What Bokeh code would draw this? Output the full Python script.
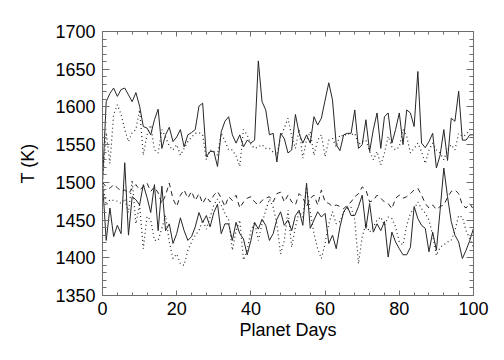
import numpy as np
from bokeh.plotting import figure
from bokeh.models import Range1d, LinearAxis, SingleIntervalTicker, CustomJSTickFormatter
from bokeh.embed import file_html
from bokeh.resources import INLINE

days = list(range(101))

upper_solid = [1500, 1607, 1618, 1625, 1614, 1623, 1625, 1616, 1607, 1619,
               1601, 1574, 1572, 1563, 1583, 1597, 1545, 1563, 1573, 1554,
               1560, 1570, 1547, 1563, 1566, 1570, 1601, 1605, 1534, 1541,
               1541, 1521, 1567, 1581, 1587, 1563, 1552, 1563, 1547, 1556,
               1552, 1556, 1661, 1607, 1596, 1563, 1565, 1527, 1565, 1558,
               1539,
               1543, 1590, 1565, 1552, 1563, 1552, 1587, 1576, 1585, 1609,
               1632, 1609, 1550, 1542, 1563, 1565, 1565, 1596, 1545, 1550,
               1583, 1541, 1570, 1592, 1545, 1587, 1592, 1552, 1570, 1592,
               1550, 1596, 1592, 1574, 1647, 1552, 1546, 1554, 1565, 1519,
               1536, 1570, 1529, 1585, 1581, 1621, 1556, 1556, 1563, 1563]

upper_dotted = [1500, 1566, 1525, 1590, 1603, 1590, 1570, 1554, 1566, 1570,
                1596, 1536, 1563, 1576, 1543, 1539, 1570, 1560, 1548, 1543,
                1550, 1536, 1545, 1554, 1560, 1565, 1566, 1563, 1530, 1543,
                1541, 1536, 1565, 1555, 1543, 1543, 1535, 1521, 1570, 1563,
                1550, 1545, 1547, 1550, 1545, 1545, 1540, 1536, 1560, 1572,
                1585,
                1561, 1545, 1570, 1532, 1556, 1567, 1536, 1556, 1563, 1534,
                1556, 1558, 1547, 1563, 1561, 1565, 1563, 1565, 1550, 1554,
                1556, 1541, 1530, 1541, 1523, 1539, 1561, 1547, 1543, 1547,
                1570, 1561, 1539, 1545, 1552, 1541, 1525, 1543, 1552, 1543,
                1539, 1530, 1543, 1550, 1543, 1565, 1561, 1563, 1570, 1572]

middle_dashed = [1500, 1494, 1492, 1497, 1493, 1488, 1490, 1485, 1492, 1497,
                 1490, 1494, 1499, 1488, 1494, 1486, 1472, 1483, 1499, 1478,
                 1468, 1483, 1490, 1479, 1488, 1476, 1485, 1472, 1481, 1474,
                 1483, 1488, 1479, 1468, 1481, 1476, 1483, 1466, 1474, 1479,
                 1481, 1474, 1470, 1476, 1479, 1481, 1474, 1485, 1487, 1474,
                 1483,
                 1474, 1470, 1485, 1480, 1468, 1479, 1483, 1470, 1490, 1474,
                 1472, 1468, 1470, 1468, 1465, 1470, 1474, 1481, 1485, 1494,
                 1490, 1474, 1476, 1483, 1479, 1474, 1472, 1465, 1479, 1483,
                 1479, 1481, 1485, 1490, 1492, 1483, 1472, 1466, 1470, 1464,
                 1468, 1470, 1480, 1488, 1490, 1485, 1470, 1466, 1472, 1464]

lower_solid = [1500, 1423, 1466, 1428, 1443, 1432, 1526, 1430, 1481, 1477,
               1470, 1497, 1480, 1460, 1497, 1436, 1495, 1436, 1445, 1419,
               1432, 1453, 1436, 1423, 1428, 1441, 1460, 1447, 1456, 1441,
               1460, 1471, 1432, 1445, 1445, 1423, 1447, 1432, 1425, 1404,
               1423, 1447, 1438, 1451, 1443, 1423, 1432, 1451, 1461, 1443,
               1450,
               1436, 1456, 1463, 1443, 1499, 1439, 1450, 1461, 1454, 1459,
               1419, 1430, 1412, 1441, 1461, 1468, 1456, 1456, 1468, 1483,
               1439, 1472, 1434, 1445, 1436, 1448, 1401, 1434, 1421, 1412,
               1404, 1404, 1414, 1468, 1452, 1443, 1439, 1408, 1434, 1410,
               1463, 1519, 1481, 1448, 1430, 1421, 1399, 1410, 1423, 1439]

lower_dotted = [1500, 1470, 1477, 1476, 1475, 1472, 1478, 1460, 1503, 1445,
                1470, 1412, 1455, 1450, 1423, 1423, 1439, 1456, 1421, 1399,
                1405, 1392, 1390, 1410, 1421, 1430, 1436, 1450, 1438, 1454,
                1470, 1478, 1470, 1459, 1450, 1410, 1436, 1450, 1397, 1410,
                1436, 1447, 1423, 1445, 1463, 1478, 1467, 1445, 1405, 1423,
                1463,
                1414, 1441, 1461, 1454, 1494, 1461, 1432, 1412, 1399, 1419,
                1445, 1461, 1445, 1448, 1461, 1465, 1467, 1450, 1392, 1428,
                1445, 1434, 1441, 1450, 1454, 1443, 1454, 1452, 1441, 1421,
                1417, 1443, 1459, 1465, 1474, 1465, 1459, 1450, 1430, 1403,
                1414, 1417, 1421, 1423, 1436, 1456, 1454, 1436, 1425, 1414]

FONT = "Liberation Sans"
AXC = "#6e6e6e"
LC = "#262626"

p = figure(width=496, height=352, output_backend="svg", toolbar_location=None,
           x_range=Range1d(0, 100), y_range=Range1d(1350, 1700),
           min_border_left=102, min_border_right=23, min_border_top=31,
           min_border_bottom=57)
p.xgrid.visible = False
p.ygrid.visible = False
p.outline_line_color = AXC
p.background_fill_color = "white"
p.border_fill_color = "white"

p.line(days, upper_solid, line_color=LC, line_width=1)
p.line(days, upper_dotted, line_color=LC, line_width=1.2, line_dash="1 3")
p.line(days, middle_dashed, line_color=LC, line_width=1, line_dash="5 4")
p.line(days, lower_solid, line_color=LC, line_width=1)
p.line(days, lower_dotted, line_color=LC, line_width=1.2, line_dash="1 3")

p.xaxis.ticker = SingleIntervalTicker(interval=20, num_minor_ticks=5)
p.yaxis.ticker = SingleIntervalTicker(interval=50, num_minor_ticks=5)

def style(ax, major_len, minor_len, labels=True):
    ax.axis_line_color = AXC
    ax.major_tick_line_color = AXC
    ax.minor_tick_line_color = AXC
    ax.major_tick_in = major_len
    ax.major_tick_out = 0
    ax.minor_tick_in = minor_len
    ax.minor_tick_out = 0
    if labels:
        ax.major_label_text_font = FONT
        ax.major_label_text_font_size = "18px"
        ax.major_label_text_color = "black"
        ax.axis_label_text_font = FONT
        ax.axis_label_text_font_size = "18px"
        ax.axis_label_text_font_style = "normal"
        ax.axis_label_text_color = "black"
    else:
        ax.formatter = CustomJSTickFormatter(code="return ''")
        ax.major_label_standoff = 0

for ax in p.xaxis:
    style(ax, 5, 3)
    ax.axis_label = "Planet Days"
    ax.major_label_standoff = 6
    ax.axis_label_standoff = 2
for ax in p.yaxis:
    style(ax, 7, 4)
    ax.axis_label = "T (K)"
    ax.major_label_standoff = 7
    ax.axis_label_standoff = 14

top = LinearAxis(ticker=SingleIntervalTicker(interval=20, num_minor_ticks=5))
style(top, 5, 3, labels=False)
p.add_layout(top, "above")
right = LinearAxis(ticker=SingleIntervalTicker(interval=50, num_minor_ticks=5))
style(right, 7, 4, labels=False)
p.add_layout(right, "right")

open("out.html", "w").write(file_html(p, INLINE))
